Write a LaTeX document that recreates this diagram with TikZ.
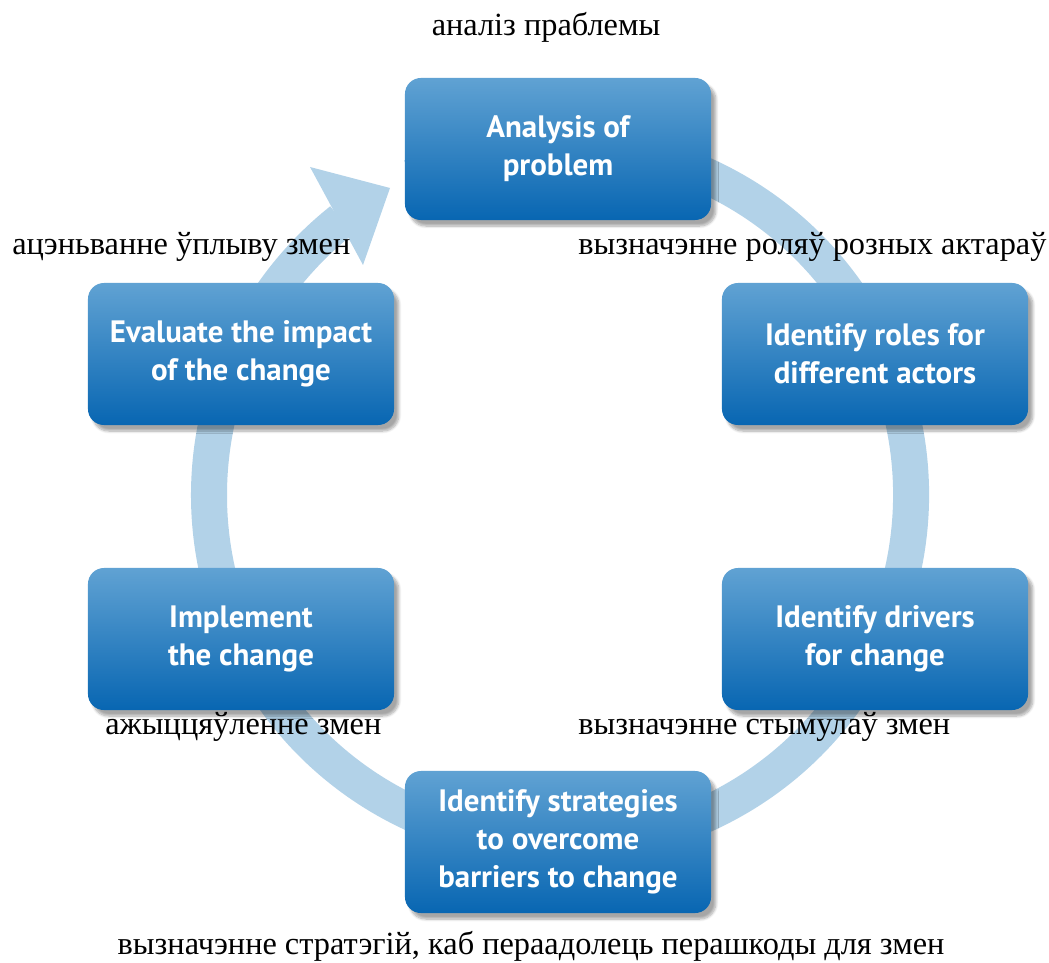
\documentclass[tikz,border=0pt]{standalone}
\usepackage{fontspec}
\setmainfont{Liberation Serif}
\newfontfamily\boxfont{PT Sans}
\usetikzlibrary{shadows.blur}
\definecolor{boxhi}{RGB}{96,162,211}
\definecolor{boxlo}{RGB}{8,102,178}
\definecolor{ringblue}{RGB}{178,210,232}
\tikzset{
  stage/.style={rounded corners=0.4cm, minimum width=7.65cm, minimum height=3.55cm,
    top color=boxhi, bottom color=boxlo, draw=none, text=white, align=center,
    font=\boxfont\bfseries\fontsize{22}{27}\selectfont,
    blur shadow={shadow xshift=0.12cm, shadow yshift=-0.15cm, shadow blur steps=8, shadow opacity=35}},
  gloss/.style={font=\fontsize{23}{28}\selectfont, inner sep=0pt},
  ring/.style={draw=ringblue, line width=0.9cm}
}
\begin{document}
\begin{tikzpicture}[x=0.025cm, y=0.025cm]
\useasboundingbox (0,0) rectangle (1049,962);
\coordinate (centre) at (560,467);
% Draw ring
\draw[ring] ($(centre)+(115:351)$) arc [start angle=115, end angle=-231.5, radius=351];
% Arrow head
\coordinate (tip) at (390,774);
\coordinate (outer) at (310,795);
\coordinate (inner) at (363,697);
\fill[ringblue] (outer) -- (tip) -- (inner) -- cycle;
% Stages
\node[stage] (analysis) at (558,813) {Analysis of\\problem};
\node[stage] (roles) at (875,608) {Identify roles for\\different actors};
\node[stage] (drivers) at (875,323) {Identify drivers\\for change};
\node[stage] (strategies) at (558,120) {Identify strategies\\to overcome\\barriers to change};
\node[stage] (implement) at (241,323) {Implement\\the change};
\node[stage] (evaluate) at (241,608) {Evaluate the impact\\of the change};
% Translations
\node[gloss] (t-analysis) at (546,935) {аналіз праблемы};
\node[gloss, anchor=west] (t-roles) at (578,715) {вызначэнне роляў розных актараў};
\node[gloss, anchor=west] (t-drivers) at (578,235) {вызначэнне стымулаў змен};
\node[gloss] (t-strategies) at (531,16) {вызначэнне стратэгій, каб пераадолець перашкоды для змен};
\node[gloss, anchor=west] (t-implement) at (105,235) {ажыццяўленне змен};
\node[gloss, anchor=west] (t-evaluate) at (12,715) {ацэньванне ўплыву змен};
\end{tikzpicture}
\end{document}
